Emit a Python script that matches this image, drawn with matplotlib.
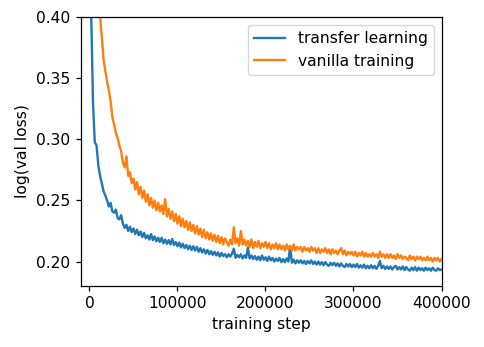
import numpy as np
import matplotlib
matplotlib.use("Agg")
import matplotlib.pyplot as plt

steps = np.arange(0, 400001, 2000)

transfer = [
    0.620, 0.400, 0.330, 0.2975, 0.2950, 0.2790, 0.2700, 0.2640, 0.2575, 0.2540,
    0.2500, 0.2450, 0.2480, 0.2410, 0.2400, 0.2425, 0.2355, 0.2345, 0.2380, 0.2310,
    0.2275, 0.2300, 0.2250, 0.2285, 0.2240, 0.2270, 0.2225, 0.2260, 0.2215, 0.2245,
    0.2200, 0.2235, 0.2190, 0.2215, 0.2180, 0.2225, 0.2175, 0.2205, 0.2165, 0.2195,
    0.2160, 0.2195, 0.2150, 0.2180, 0.2145, 0.2175, 0.2140, 0.2185, 0.2135, 0.2160,
    0.2125, 0.2155, 0.2115, 0.2145, 0.2110, 0.2135, 0.2100, 0.2130, 0.2095, 0.2125,
    0.2090, 0.2120, 0.2080, 0.2110, 0.2075, 0.2100, 0.2065, 0.2095, 0.2060, 0.2085,
    0.2055, 0.2080, 0.2050, 0.2075, 0.2040, 0.2070, 0.2045, 0.2060, 0.2035, 0.2060,
    0.2040, 0.2065, 0.2105, 0.2030, 0.2055, 0.2035, 0.2060, 0.2025, 0.2050, 0.2030,
    0.2115, 0.2025, 0.2050, 0.2020, 0.2045, 0.2015, 0.2040, 0.2010, 0.2050, 0.2015,
    0.2035, 0.2005, 0.2040, 0.2010, 0.2030, 0.2000, 0.2025, 0.2005, 0.2030, 0.1995,
    0.2020, 0.1995, 0.2025, 0.2000, 0.2120, 0.1990, 0.2015, 0.1985, 0.2010, 0.1990,
    0.2010, 0.1985, 0.2005, 0.1980, 0.2005, 0.1985, 0.2010, 0.1980, 0.2000, 0.1975,
    0.2000, 0.1975, 0.1995, 0.1970, 0.1995, 0.1975, 0.1965, 0.1990, 0.1970, 0.1990,
    0.1965, 0.1985, 0.1960, 0.1985, 0.1965, 0.1955, 0.1980, 0.1960, 0.1980, 0.1955,
    0.1975, 0.1955, 0.1980, 0.1950, 0.1970, 0.1950, 0.1975, 0.1945, 0.1965, 0.1945,
    0.1970, 0.1945, 0.1965, 0.1940, 0.1965, 0.2005, 0.1945, 0.1965, 0.1940, 0.1960,
    0.1940, 0.1960, 0.1935, 0.1955, 0.1965, 0.1935, 0.1955, 0.1935, 0.1960, 0.1930,
    0.1955, 0.1935, 0.1925, 0.1950, 0.1930, 0.1955, 0.1925, 0.1950, 0.1930, 0.1945,
    0.1925, 0.1950, 0.1930, 0.1945, 0.1925, 0.1950, 0.1930, 0.1925, 0.1945, 0.1930,
    0.1935,
]

vanilla = [
    0.700, 0.600, 0.530, 0.480, 0.445, 0.420, 0.402, 0.385, 0.365, 0.356,
    0.347, 0.340, 0.331, 0.318, 0.312, 0.305, 0.301, 0.295, 0.290, 0.281,
    0.277, 0.286, 0.270, 0.273, 0.264, 0.268, 0.259, 0.265, 0.255, 0.261,
    0.252, 0.258, 0.249, 0.255, 0.246, 0.252, 0.244, 0.250, 0.242, 0.248,
    0.241, 0.246, 0.239, 0.251, 0.237, 0.243, 0.235, 0.241, 0.233, 0.239,
    0.231, 0.237, 0.229, 0.235, 0.228, 0.233, 0.226, 0.232, 0.225, 0.230,
    0.223, 0.229, 0.222, 0.227, 0.220, 0.226, 0.219, 0.224, 0.218, 0.223,
    0.217, 0.222, 0.216, 0.221, 0.215, 0.220, 0.214, 0.219, 0.216, 0.213,
    0.218, 0.214, 0.228, 0.215, 0.219, 0.213, 0.225, 0.214, 0.218, 0.213,
    0.217, 0.212, 0.218, 0.211, 0.216, 0.212, 0.217, 0.211, 0.215, 0.212,
    0.216, 0.211, 0.215, 0.210, 0.214, 0.211, 0.215, 0.210, 0.214, 0.210,
    0.213, 0.209, 0.214, 0.210, 0.213, 0.209, 0.214, 0.209, 0.212, 0.210,
    0.212, 0.208, 0.212, 0.209, 0.211, 0.208, 0.212, 0.209, 0.211, 0.207,
    0.211, 0.207, 0.210, 0.208, 0.211, 0.207, 0.210, 0.206, 0.210, 0.207,
    0.209, 0.206, 0.209, 0.211, 0.206, 0.209, 0.205, 0.208, 0.206, 0.208,
    0.205, 0.208, 0.204, 0.207, 0.205, 0.208, 0.204, 0.207, 0.204, 0.206,
    0.204, 0.207, 0.204, 0.206, 0.203, 0.208, 0.204, 0.206, 0.203, 0.206,
    0.203, 0.206, 0.203, 0.205, 0.202, 0.206, 0.203, 0.205, 0.202, 0.204,
    0.203, 0.201, 0.205, 0.202, 0.204, 0.201, 0.204, 0.202, 0.204, 0.201,
    0.203, 0.201, 0.204, 0.201, 0.203, 0.200, 0.203, 0.201, 0.203, 0.200,
    0.202,
]

xticks = [0, 100000, 200000, 300000, 400000]
yticks = [0.20, 0.25, 0.30, 0.35, 0.40]

plt.rcParams.update({
    "font.size": 11.2,
    "axes.linewidth": 0.9,
    "xtick.major.size": 3.9,
    "ytick.major.size": 3.9,
    "xtick.major.width": 0.9,
    "ytick.major.width": 0.9,
})

fig = plt.figure(figsize=(4.84, 3.47), dpi=100)
ax = fig.add_axes([0.1667, 0.1758, 0.7455, 0.7752])
ax.plot(steps, transfer, color="#1f77b4", lw=1.7, label="transfer learning")
ax.plot(steps, vanilla, color="#ff7f0e", lw=1.7, label="vanilla training")
ax.set_xlim(-10000, 400000)
ax.set_ylim(0.18, 0.40)
ax.set_xticks(xticks)
ax.set_xticklabels([str(t) for t in xticks])
ax.set_yticks(yticks)
ax.set_yticklabels([f"{t:.2f}" for t in yticks])
ax.set_xlabel("training step")
ax.set_ylabel("log(val loss)")
ax.legend(loc="upper right")
fig.savefig("out.png", dpi=100)
